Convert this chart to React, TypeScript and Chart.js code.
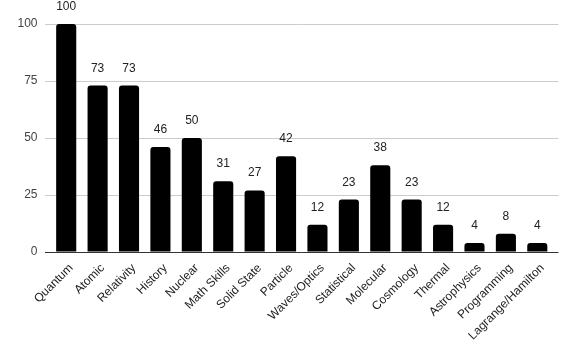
import React, { useEffect, useRef } from "react";
import { Chart, registerables } from "chart.js";

Chart.register(...registerables);

const categories = [
  "Quantum", "Atomic", "Relativity", "History", "Nuclear", "Math Skills", "Solid State", "Particle",
  "Waves/Optics", "Statistical", "Molecular", "Cosmology", "Thermal", "Astrophysics", "Programming", "Lagrange/Hamilton",
];
const values = [100, 73, 73, 46, 50, 31, 27, 42, 12, 23, 38, 23, 12, 4, 8, 4];
const yTicks = [0, 25, 50, 75, 100];

const FONT = "Arial, 'Liberation Sans', sans-serif";

const gridPlugin = {
  id: "customGrid",
  beforeDatasetsDraw(chart: any) {
    const { ctx, chartArea, scales } = chart;
    const y = scales.y;
    ctx.save();
    yTicks.forEach((t) => {
      const py = Math.round(y.getPixelForValue(t)) + 0.5;
      ctx.strokeStyle = t === 0 ? "#333333" : "#cccccc";
      ctx.lineWidth = 1;
      ctx.beginPath();
      ctx.moveTo(chartArea.left - 5.5, py);
      ctx.lineTo(chartArea.right + 5.5, py);
      ctx.stroke();
    });
    ctx.restore();
  },
};

const labelPlugin = {
  id: "valueLabels",
  afterDatasetsDraw(chart: any) {
    const { ctx } = chart;
    const meta = chart.getDatasetMeta(0);
    ctx.save();
    ctx.font = `12px ${FONT}`;
    ctx.fillStyle = "#222222";
    ctx.textAlign = "center";
    ctx.textBaseline = "alphabetic";
    meta.data.forEach((bar: any, i: number) => {
      ctx.fillText(String(values[i]), bar.x, bar.y - 14);
    });
    ctx.restore();
  },
};

export default function App() {
  const ref = useRef<HTMLCanvasElement | null>(null);
  useEffect(() => {
    document.body.style.margin = "0";
    const chart = new Chart(ref.current as HTMLCanvasElement, {
      type: "bar",
      data: {
        labels: categories,
        datasets: [
          {
            data: values,
            backgroundColor: "#000000",
            borderRadius: 3,
            borderSkipped: "bottom",
            barPercentage: 0.64,
            categoryPercentage: 1,
          },
        ],
      },
      options: {
        animation: false,
        responsive: false,
        maintainAspectRatio: false,
        layout: { padding: { top: 24, right: 23, left: 0, bottom: 0 } },
        plugins: { legend: { display: false }, tooltip: { enabled: false } },
        scales: {
          x: {
            grid: { display: false, drawTicks: false },
            border: { display: false },
            ticks: {
              autoSkip: false,
              maxRotation: 45,
              minRotation: 45,
              padding: 9,
              labelOffset: 5,
              color: "#222222",
              font: { family: FONT, size: 12 },
            },
            afterFit: (axis: any) => {
              axis.height = 104;
            },
          },
          y: {
            min: 0,
            max: 100,
            grid: { drawOnChartArea: false, drawTicks: true, tickLength: 5, color: "transparent" },
            border: { display: false },
            afterBuildTicks: (axis: any) => {
              axis.ticks = yTicks.map((v) => ({ value: v }));
            },
            ticks: {
              padding: 8,
              color: "#444444",
              font: { family: FONT, size: 12 },
            },
            afterFit: (axis: any) => {
              axis.width = 50.5;
            },
          },
        },
      },
      plugins: [gridPlugin, labelPlugin],
    });
    return () => chart.destroy();
  }, []);
  return (
    <div style={{ width: 576, height: 356 }}>
      <canvas ref={ref} width={576} height={356} style={{ width: 576, height: 356, display: "block" }} />
    </div>
  );
}
